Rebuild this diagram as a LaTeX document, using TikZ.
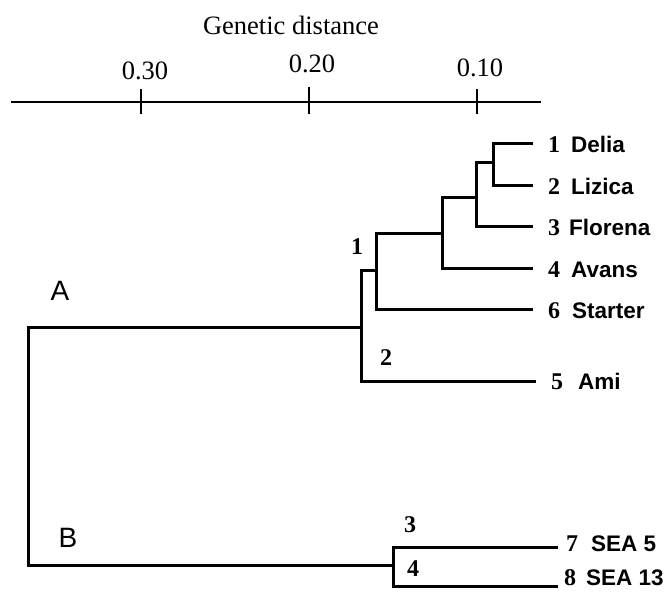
\documentclass[tikz,border=0pt]{standalone}
\usepackage{fontspec}
\setmainfont{Liberation Serif}
\newfontfamily\lsans{Liberation Sans}
\begin{document}
\begin{tikzpicture}[x=1pt,y=-1pt,
  br/.style={line width=3pt, line join=miter},
  axisln/.style={line width=2.6pt},
  axlab/.style={anchor=base, inner sep=0pt, font=\fontsize{26.5}{30}\selectfont},
  leafnum/.style={anchor=base west, inner sep=0pt, font=\fontsize{24}{28}\selectfont\bfseries},
  leafname/.style={anchor=base west, inner sep=0pt, font=\fontsize{22.5}{26}\selectfont\lsans\bfseries},
  clnum/.style={anchor=base, inner sep=0pt, font=\fontsize{24}{28}\selectfont\bfseries},
  grp/.style={anchor=base, inner sep=0pt, font=\fontsize{28}{32}\selectfont\lsans}]
\useasboundingbox (0,0) rectangle (668,591);
% axis
\node[axlab] (title) at (291,35) {Genetic distance};
\coordinate (ax0) at (11,102);
\coordinate (ax1) at (541,102);
\draw[axisln] (ax0) -- (ax1);
\coordinate (t3a) at (141,89); \coordinate (t3b) at (141,114);
\coordinate (t2a) at (309,87); \coordinate (t2b) at (309,114);
\coordinate (t1a) at (477,89); \coordinate (t1b) at (477,114);
\draw[axisln] (t3a) -- (t3b);
\draw[axisln] (t2a) -- (t2b);
\draw[axisln] (t1a) -- (t1b);
\node[axlab] (l30) at (145,80) {0.30};
\node[axlab] (l20) at (312,73) {0.20};
\node[axlab] (l10) at (480,77) {0.10};
% internal nodes
\coordinate (rA) at (28,327);
\coordinate (rB) at (28,565);
\coordinate (nA) at (361,327);
\coordinate (n1) at (376,270);
\coordinate (n2) at (442,233);
\coordinate (n3) at (476,197);
\coordinate (n4) at (493,162);
\coordinate (nB) at (393,565);
% leaf ends
\coordinate (e1) at (533,143);
\coordinate (e2) at (533,185);
\coordinate (e3) at (533,226);
\coordinate (e4) at (533,268);
\coordinate (e6) at (533,309);
\coordinate (e5) at (536,381);
\coordinate (e7) at (558,547);
\coordinate (e8) at (558,586);
% branches
\draw[br] (nA) -- (rA) -- (rB) -- (nB);
\draw[br] (n1) -| (nA);
\draw[br] (e5) -| (nA);
\draw[br] (n2) -| (n1);
\draw[br] (e6) -| (n1);
\draw[br] (n3) -| (n2);
\draw[br] (e4) -| (n2);
\draw[br] (n4) -| (n3);
\draw[br] (e3) -| (n3);
\draw[br] (e1) -| (n4);
\draw[br] (e2) -| (n4);
\draw[br] (e7) -| (nB);
\draw[br] (e8) -| (nB);
% leaf labels
\node[leafnum] (k1) at (548,152) {1};
\node[leafname] (d1) at (571,152) {Delia};
\node[leafnum] (k2) at (548,194) {2};
\node[leafname] (d2) at (571,194) {Lizica};
\node[leafnum] (k3) at (548,235) {3};
\node[leafname] (d3) at (569,235) {Florena};
\node[leafnum] (k4) at (548,277) {4};
\node[leafname] (d4) at (571,277) {Avans};
\node[leafnum] (k6) at (548,318) {6};
\node[leafname] (d6) at (572,318) {Starter};
\node[leafnum] (k5) at (551,389) {5};
\node[leafname] (d5) at (578,389) {Ami};
\node[leafnum] (k7) at (566,551) {7};
\node[leafname] (d7) at (591,551) {SEA 5};
\node[leafnum] (k8) at (564,585) {8};
\node[leafname] (d8) at (586,585) {SEA 13};
% cluster labels
\node[clnum] (c1) at (357,254) {1};
\node[clnum] (c2) at (386,365) {2};
\node[clnum] (c3) at (410,532) {3};
\node[clnum] (c4) at (413,576) {4};
\node[grp] (gA) at (60,300) {A};
\node[grp] (gB) at (68,547) {B};
\end{tikzpicture}
\end{document}
